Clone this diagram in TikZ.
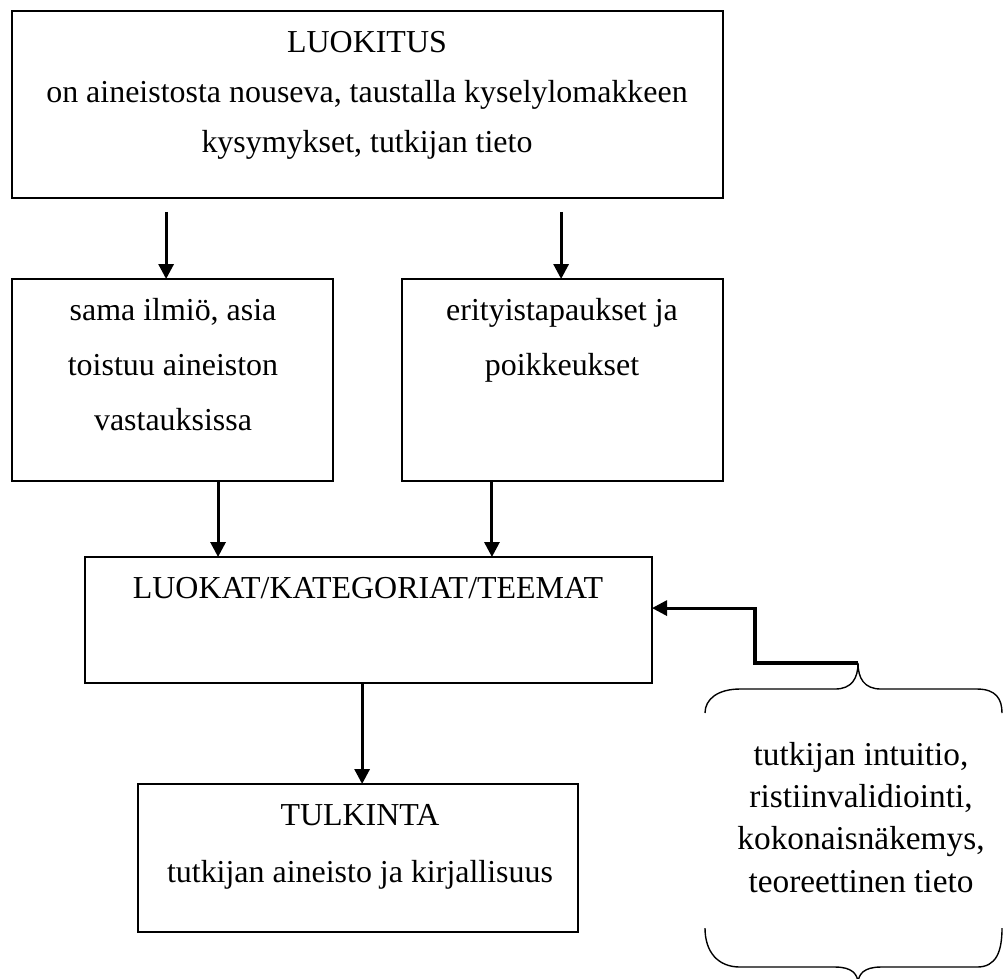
\documentclass[tikz,border=0pt]{standalone}
\usepackage{fontspec}
\setmainfont{Liberation Serif}
\usetikzlibrary{arrows.meta}
\tikzset{
  box/.style={draw, line width=0.72pt, inner sep=0pt, outer sep=0pt},
  txt/.style={align=center, inner sep=0pt, anchor=base},
  link/.style={line width=1.1pt, -{Triangle[length=5.4pt,width=5.4pt]}},
  curl/.style={line width=0.5pt}
}
\begin{document}
\begin{tikzpicture}[x=0.36pt,y=-0.36pt]
  \def\u{0.36pt}
  \useasboundingbox (0,0) rectangle (1003,978);
  \node[box, minimum width=711*\u, minimum height=187*\u] (luokitus) at (367.5,104.5) {};
  \node[box, minimum width=321*\u, minimum height=202*\u] (sama) at (172.5,380) {};
  \node[box, minimum width=321*\u, minimum height=202*\u] (erityis) at (562.5,380) {};
  \node[box, minimum width=567*\u, minimum height=126*\u] (luokat) at (368.5,620) {};
  \node[box, minimum width=440*\u, minimum height=148*\u] (tulkinta) at (358,858) {};
  % texts, placed by the baseline of their last line
  \node[txt, font=\fontsize{11.5}{18}\selectfont] (luokitusTxt) at (367,152) {LUOKITUS\\on aineistosta nouseva, taustalla kyselylomakkeen\\kysymykset, tutkijan tieto};
  \node[txt, font=\fontsize{11.5}{19.8}\selectfont] (samaTxt) at (173,430) {sama ilmiö, asia\\toistuu aineiston\\vastauksissa};
  \node[txt, font=\fontsize{11.5}{19.8}\selectfont] (erityisTxt) at (562,375) {erityistapaukset ja\\poikkeukset};
  \node[txt, font=\fontsize{11.5}{19.8}\selectfont] (luokatTxt) at (368,598) {LUOKAT/KATEGORIAT/TEEMAT};
  \node[txt, font=\fontsize{11.5}{20.5}\selectfont] (tulkintaTxt) at (360,882) {TULKINTA\\tutkijan aineisto ja kirjallisuus};
  \node[txt, font=\fontsize{12}{15.2}\selectfont] (tietoTxt) at (861,892) {tutkijan intuitio,\\ristiinvalidiointi,\\kokonaisnäkemys,\\teoreettinen tieto};
  % arrows
  \draw[link, shorten <=5pt] ([xshift=-2.3pt]sama.north |- luokitus.south) -- ([xshift=-2.3pt]sama.north);
  \draw[link, shorten <=5pt] ([xshift=-0.5pt]erityis.north |- luokitus.south) -- ([xshift=-0.5pt]erityis.north);
  \draw[link] ([xshift=16.4pt]sama.south) -- ([xshift=16.4pt]sama.south |- luokat.north);
  \draw[link] ([xshift=-25.4pt]erityis.south) -- ([xshift=-25.4pt]erityis.south |- luokat.north);
  \draw[link] ([xshift=-2.3pt]luokat.south) -- ([xshift=-2.3pt]luokat.south |- tulkinta.north);
  % braces
  \coordinate (tip) at (858,663);
  \draw[curl] (705,713) .. controls (705,699) and (718,689) .. (740,689) -- (835,689) .. controls (852,689) and (858,678) .. (tip) .. controls (858,678) and (864,689) .. (881,689) -- (977,689) .. controls (996,689) and (1002,699) .. (1002,713);
  \draw[curl] (705,928) .. controls (705,952) and (718,967) .. (740,967) -- (835,967) .. controls (852,967) and (858,974) .. (858,984) .. controls (858,974) and (864,967) .. (881,967) -- (977,967) .. controls (996,967) and (1002,952) .. (1002,928);
  \draw[link] (tip) -- ++(-103,0) |- ([yshift=4.3pt]luokat.east);
\end{tikzpicture}
\end{document}
